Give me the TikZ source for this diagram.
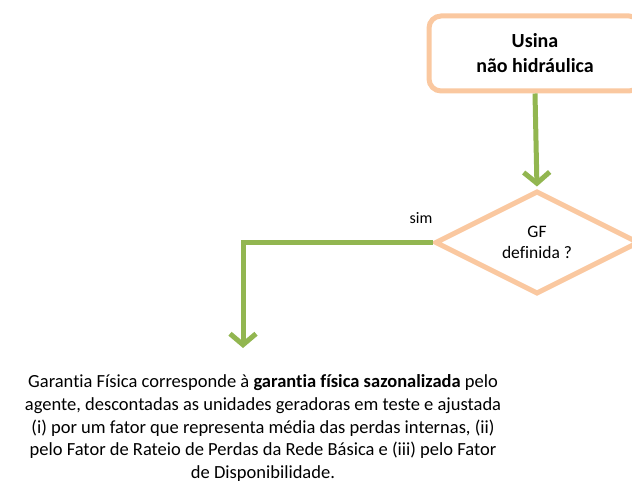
\documentclass[tikz,border=0pt]{standalone}
\usepackage{fontspec}
\setmainfont{Carlito}[Ligatures=NoCommon]
\usepackage{tikz}
\usetikzlibrary{positioning,arrows.meta,shapes.geometric}
\usepackage{xcolor}
\definecolor{cPeach}{RGB}{250,200,160}
\definecolor{eGreen}{RGB}{146,182,80}
\tikzset{
  start/.style  ={draw=cPeach,line width=5pt,rounded corners=12pt,align=center,
                  font=\fontsize{20}{25}\selectfont\bfseries,
                  minimum width=212pt,minimum height=75pt,fill=white},
  decide/.style ={draw=cPeach,line width=5pt,diamond,aspect=2,inner sep=0pt,
                  minimum width=204pt,minimum height=103pt,align=center,
                  font=\fontsize{17.5}{20.5}\selectfont},
  flow/.style   ={-{Straight Barb[length=11pt,width=26pt,line width=5pt]},
                  draw=eGreen,line width=5pt},
  lbl/.style    ={font=\fontsize{16}{18}\selectfont,inner sep=1pt},
  result/.style ={align=center,inner sep=0pt,
                  font=\fontsize{18.5}{22.7}\selectfont},
}
\begin{document}
\begin{tikzpicture}[x=1pt,y=-1pt]
\useasboundingbox (0,0) rectangle (632,484);

\node[start] (usina) at (535,53.5) {Usina\\não hidráulica};

\node[decide] (gf) at (537,242.5) {GF\\definida ?};

\draw[flow,shorten >=2pt] (usina.south) -- (gf.north);

\node[lbl] (sim) at (421,218) {sim};

\coordinate (drop) at (243,348);
\draw[flow] (gf.west) -| (drop);

\node[result] (gfis) at (263,428)
 {Garantia Física corresponde à \textbf{garantia física sazonalizada} pelo\\
  agente, descontadas as unidades geradoras em teste e ajustada\\
  (i) por um fator que representa média das perdas internas, (ii)\\
  pelo Fator de Rateio de Perdas da Rede Básica e (iii) pelo Fator\\
  de Disponibilidade.};

\end{tikzpicture}
\end{document}
